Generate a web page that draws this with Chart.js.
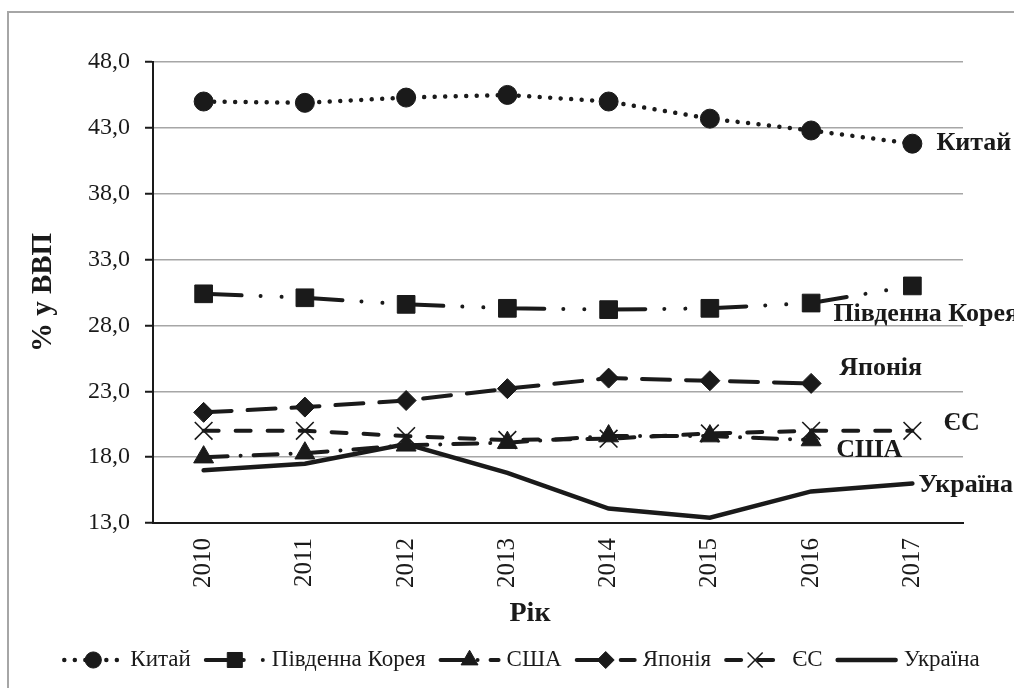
<!DOCTYPE html>
<html>
<head>
<meta charset="utf-8">
<script src="https://cdn.jsdelivr.net/npm/chart.js"></script>
<style>
    body {
        margin: 0;
        padding: 0;
        background: #fff;
    }
    #wrap {
        position: relative;
        width: 1014px;
        height: 688px;
        overflow: hidden;
    }
    #frame {
        position: absolute;
        left: 7px;
        top: 11px;
        width: 1100px;
        height: 800px;
        border-left: 2px solid #a6a6a6;
        border-top: 2px solid #a6a6a6;
    }
    #myChart {
        position: absolute;
        left: 0;
        top: 0;
    }
</style>
</head>
<body>
<div id="wrap">
    <div id="frame"></div>
    <canvas id="myChart" width="1014" height="688"></canvas>
</div>
<script>
    // values (% of GDP)
    const years = ['2010', '2011', '2012', '2013', '2014', '2015', '2016', '2017'];
    const china = [45.0, 44.9, 45.3, 45.5, 45.0, 43.7, 42.8, 41.8];
    const korea = [30.4, 30.1, 29.6, 29.3, 29.2, 29.3, 29.7, 31.0];
    const usa = [18.0, 18.3, 18.9, 19.1, 19.6, 19.6, 19.3, null];
    const japan = [21.4, 21.8, 22.3, 23.2, 24.0, 23.8, 23.6, null];
    const eu = [20.0, 20.0, 19.6, 19.3, 19.4, 19.8, 20.0, 20.0];
    const ukraine = [17.0, 17.5, 19.0, 16.8, 14.1, 13.4, 15.4, 16.0];
    const yTicks = [13, 18, 23, 28, 33, 38, 43, 48];

    const serif = '"Liberation Serif", "Times New Roman", serif';
    const ink = '#1a1a1a';

    // where each end label sits relative to the series' last point
    const labelOffsets = [[24, 0], [-79, 28], [25, 10], [28, -15], [31, -8], [6, 2]];

    function series(label, data, dash, style, radius, extra) {
        return Object.assign({
            label: label,
            data: data,
            borderColor: ink,
            backgroundColor: ink,
            borderWidth: 4,
            borderDash: dash,
            borderCapStyle: 'round',
            tension: 0,
            fill: false,
            pointStyle: style,
            pointRadius: radius,
            pointBackgroundColor: ink,
            pointBorderColor: ink,
            pointBorderWidth: 1
        }, extra || {});
    }

    const datasets = [
        series('Китай', china, [0.01, 10.5], 'circle', 9.5, { borderWidth: 4.5 }),
        series('Південна Корея', korea, [38, 19, 0.01, 21, 0.01, 23], 'rect', 12.5),
        series('США', usa, [24, 13, 0.01, 13], 'triangle', 11.5),
        series('Японія', japan, [28, 16], 'rectRot', 10),
        series('ЄС', eu, [15, 17], 'crossRot', 12.5, { pointBorderWidth: 1.6 }),
        series('Україна', ukraine, [], 'circle', 0, { borderWidth: 4.5 })
    ];

    // end labels, x title and the legend with line samples
    const extrasPlugin = {
        id: 'extras',
        afterDatasetsDraw(chart) {
            const ctx = chart.ctx;
            const sets = chart.data.datasets;
            ctx.save();
            ctx.fillStyle = ink;
            ctx.textBaseline = 'middle';
            ctx.textAlign = 'left';
            ctx.font = 'bold 26px ' + serif;
            sets.forEach((ds, i) => {
                const meta = chart.getDatasetMeta(i);
                let last = ds.data.length - 1;
                while (ds.data[last] == null) last--;
                const pt = meta.data[last];
                ctx.fillText(ds.label, pt.x + labelOffsets[i][0], pt.y + labelOffsets[i][1]);
            });

            ctx.font = 'bold 28px ' + serif;
            ctx.textAlign = 'center';
            ctx.fillText('Рік', 530, 614);

            // legend
            ctx.font = '23px ' + serif;
            ctx.textAlign = 'left';
            const sampleW = 62, gap = 6, space = 13;
            const widths = sets.map(ds => sampleW + gap + ctx.measureText(ds.label).width);
            const total = widths.reduce((a, b) => a + b, 0) + space * (sets.length - 1);
            let x = 521 - total / 2;
            const y = 660;
            sets.forEach((ds, i) => {
                ctx.save();
                ctx.strokeStyle = ds.borderColor;
                ctx.lineWidth = ds.borderWidth;
                ctx.lineCap = ds.borderCapStyle;
                ctx.setLineDash(ds.borderDash);
                ctx.beginPath();
                ctx.moveTo(x + 2, y);
                ctx.lineTo(x + sampleW - 2, y);
                ctx.stroke();
                ctx.restore();
                if (ds.pointRadius > 0) {
                    ctx.save();
                    ctx.setLineDash([]);
                    ctx.fillStyle = ink;
                    ctx.strokeStyle = ink;
                    ctx.lineWidth = ds.pointBorderWidth;
                    Chart.helpers.drawPoint(ctx, {
                        pointStyle: ds.pointStyle,
                        radius: ds.pointRadius * 0.85,
                        borderWidth: ds.pointBorderWidth,
                        rotation: 0
                    }, x + sampleW / 2, y);
                    ctx.restore();
                }
                ctx.fillText(ds.label, x + sampleW + gap, y);
                x += widths[i] + space;
            });
            ctx.restore();
        }
    };

    const config = {
        type: 'line',
        data: {
            labels: years,
            datasets: datasets
        },
        options: {
            responsive: false,
            animation: false,
            layout: {
                padding: { left: 0, top: 62, right: 51, bottom: 0 }
            },
            plugins: {
                legend: { display: false },
                tooltip: { enabled: false }
            },
            scales: {
                x: {
                    offset: true,
                    grid: { display: false, drawTicks: false },
                    border: { display: true, color: ink, width: 2 },
                    ticks: {
                        font: { family: serif, size: 25 },
                        color: ink,
                        minRotation: 90,
                        maxRotation: 90,
                        padding: 15,
                        autoSkip: false
                    },
                    afterFit: s => { s.height = 165; }
                },
                y: {
                    min: 13,
                    max: 48,
                    afterBuildTicks: s => { s.ticks = yTicks.map(v => ({ value: v })); },
                    grid: {
                        color: '#a6a6a6',
                        lineWidth: 1.5,
                        drawTicks: true,
                        tickLength: 8,
                        tickColor: ink,
                        tickWidth: 2
                    },
                    border: { display: true, color: ink, width: 2 },
                    ticks: {
                        font: { family: serif, size: 24 },
                        color: ink,
                        padding: 15,
                        callback: v => v.toFixed(1).replace('.', ',')
                    },
                    title: {
                        display: true,
                        text: '% у ВВП',
                        font: { family: serif, size: 29, weight: 'bold' },
                        color: ink,
                        padding: { top: 26, bottom: 0 }
                    },
                    afterFit: s => { s.width = 153; }
                }
            }
        },
        plugins: [extrasPlugin]
    };

    const myChart = new Chart(document.getElementById('myChart'), config);
</script>
</body>
</html>
